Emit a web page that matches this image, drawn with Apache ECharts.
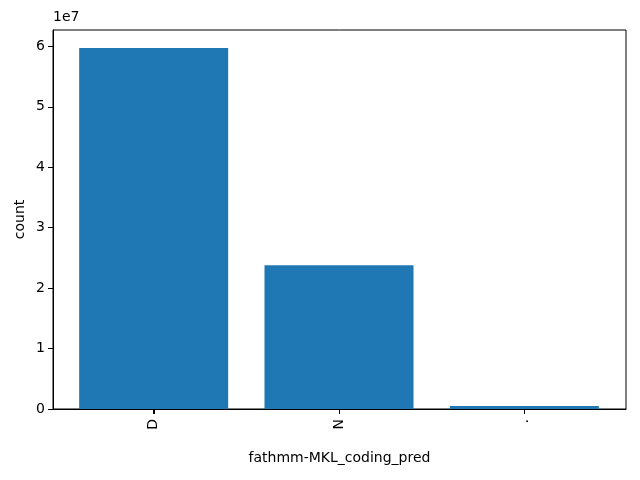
<!DOCTYPE html>
<html>
<head>
<meta charset="utf-8">
<script src="https://cdn.jsdelivr.net/npm/echarts@6/dist/echarts.min.js"></script>
<style>html,body{margin:0;padding:0;background:#fff;}#c{width:640px;height:480px;}</style>
</head>
<body>
<div id="c"></div>
<script>
var categories = ['D', 'N', '.'];
var counts = [59720000, 23800000, 500000];
var yTicks = [0, 1, 2, 3, 4, 5, 6];
var scaleExp = 7;

var chart = echarts.init(document.getElementById('c'), null, {renderer: 'canvas'});
var font = 'DejaVu Sans';
var fs = 14;
var unit = Math.pow(10, scaleExp);
var yMax = 62700000;
var option = {
  animation: false,
  backgroundColor: '#fff',
  grid: [
    {left: 53, right: 14, top: 30, bottom: 71, show: true, borderColor: '#000', borderWidth: 1, backgroundColor: 'transparent'},
    {left: 61, right: 23, top: 30, bottom: 71}
  ],
  graphic: [{type: 'text', left: 53, top: 10, style: {text: '1e' + scaleExp, font: fs + 'px "DejaVu Sans"', fill: '#000'}}],
  xAxis: [{
    gridIndex: 0, type: 'value', min: 0, max: 1,
    name: 'fathmm-MKL_coding_pred', nameLocation: 'middle', nameGap: 42,
    nameTextStyle: {fontFamily: font, fontSize: fs, color: '#000'},
    axisLine: {show: true, lineStyle: {color: '#000', width: 1}},
    axisTick: {show: false}, axisLabel: {show: false}, splitLine: {show: false}
  }, {
    gridIndex: 1, type: 'category', data: categories,
    axisLine: {show: true, onZero: false, lineStyle: {color: '#000', width: 1}},
    axisTick: {show: true, alignWithLabel: true, length: 5, lineStyle: {color: '#000', width: 1}},
    axisLabel: {show: true, rotate: 90, fontFamily: font, fontSize: fs, color: '#000', margin: 10, interval: 0},
    splitLine: {show: false}
  }],
  yAxis: [{
    gridIndex: 0, type: 'value', min: 0, max: yMax, interval: unit,
    name: 'count', nameLocation: 'middle', nameGap: 26, nameMoveOverlap: false,
    nameTextStyle: {fontFamily: font, fontSize: fs, color: '#000'},
    axisLine: {show: true, lineStyle: {color: '#000', width: 1}},
    axisTick: {show: true, length: 5, lineStyle: {color: '#000'}},
    axisLabel: {fontFamily: font, fontSize: fs, color: '#000', margin: 8, showMaxLabel: false,
      formatter: function (v) { return yTicks.indexOf(Math.round(v / unit)) >= 0 ? String(Math.round(v / unit)) : ''; }},
    splitLine: {show: false}
  }, {
    gridIndex: 1, type: 'value', min: 0, max: yMax, show: false, splitLine: {show: false}
  }],
  series: [{
    type: 'bar',
    xAxisIndex: 1, yAxisIndex: 1,
    data: counts,
    barWidth: 149,
    itemStyle: {color: '#1f77b4'}
  }, {
    type: 'custom',
    xAxisIndex: 1, yAxisIndex: 1,
    clip: false, silent: true, z: 5,
    data: categories.map(function (c, i) { return [i, 0]; }),
    renderItem: function (params, api) {
      var p = api.coord([api.value(0), 0]);
      var x = Math.round(p[0]) + 0.5;
      return {type: 'line', shape: {x1: x, y1: p[1], x2: x, y2: p[1] + 5}, style: {stroke: '#000', lineWidth: 1}};
    }
  }]
};
chart.setOption(option);
</script>
</body>
</html>
